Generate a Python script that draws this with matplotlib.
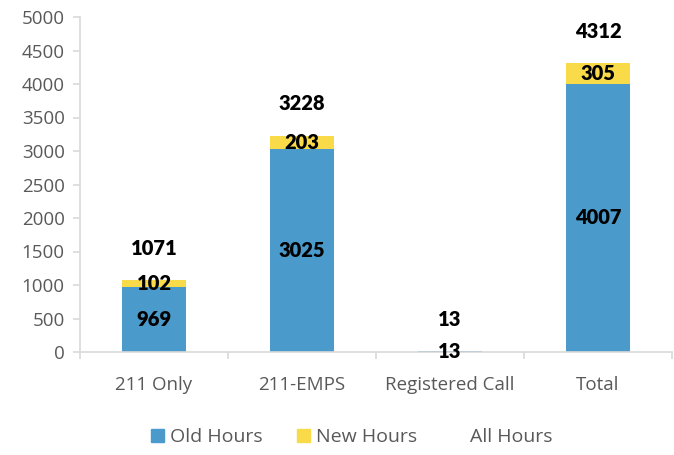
import matplotlib
matplotlib.use("Agg")
import matplotlib.pyplot as plt
import numpy as np
from matplotlib.patches import Patch

categories = ["211 Only", "211-EMPS", "Registered Call", "Total"]
old_hours = [969, 3025, 13, 4007]
new_hours = [102, 203, 0, 305]
all_hours = [1071, 3228, 13, 4312]
yticks = [0, 500, 1000, 1500, 2000, 2500, 3000, 3500, 4000, 4500, 5000]

blue = "#4A9BCC"
yellow = "#F9DB4A"
grid_c = "#D9D9D9"
txt_c = "#595959"

fig = plt.figure(figsize=(6.74, 4.55), dpi=100)
ax = fig.add_axes([80/674, 103/455, 592/674, 335/455])

x = np.arange(len(categories))
w = 0.43
ax.bar(x, old_hours, w, color=blue, label="Old Hours")
ax.bar(x, new_hours, w, bottom=old_hours, color=yellow, label="New Hours")

lab_font = dict(family=["Lato", "DejaVu Sans"], fontweight="heavy", fontsize=14.5, color="black")
for i in range(len(categories)):
    if old_hours[i]:
        ax.text(x[i], old_hours[i] / 2, str(old_hours[i]), ha="center", va="center", **lab_font)
    if new_hours[i]:
        ax.text(x[i], old_hours[i] + new_hours[i] / 2, str(new_hours[i]), ha="center", va="center", **lab_font)
    ax.annotate(str(all_hours[i]), (x[i], all_hours[i]), xytext=(0, 23), textcoords="offset points",
                ha="center", va="center", **lab_font)

ax.set_xlim(-0.5, len(categories) - 0.5)
ax.set_ylim(0, 5000)
ax.set_yticks(yticks)
ax.set_yticklabels([str(t) for t in yticks])
ax.set_xticks(x)
ax.set_xticklabels(categories)
ax.set_xticks(np.arange(-0.5, len(categories), 1.0), minor=True)

for s in ["top", "right"]:
    ax.spines[s].set_visible(False)
for s in ["left", "bottom"]:
    ax.spines[s].set_color(grid_c)
    ax.spines[s].set_linewidth(1.2)

ax.tick_params(axis="y", colors=txt_c, labelsize=13.5, length=5, width=1.2, color=grid_c, pad=6)
ax.tick_params(axis="x", which="major", colors=txt_c, labelsize=13.5, length=0, pad=17)
ax.tick_params(axis="x", which="minor", length=5, width=1.2, color=grid_c)
for lab in ax.get_xticklabels() + ax.get_yticklabels():
    lab.set_family(["Open Sans", "DejaVu Sans"])

handles = [Patch(color=blue, label="Old Hours"), Patch(color=yellow, label="New Hours"),
           Patch(color="none", label="All Hours")]
leg = fig.legend(handles=handles, loc="center", bbox_to_anchor=(352/674, 1 - 437/455), ncol=3,
                 frameon=False, handlelength=0.65, handleheight=0.65, handletextpad=0.3, columnspacing=1.8,
                 prop={"family": ["Open Sans", "DejaVu Sans"], "size": 14})
for t in leg.get_texts():
    t.set_color(txt_c)

fig.savefig("out.png", dpi=100)
